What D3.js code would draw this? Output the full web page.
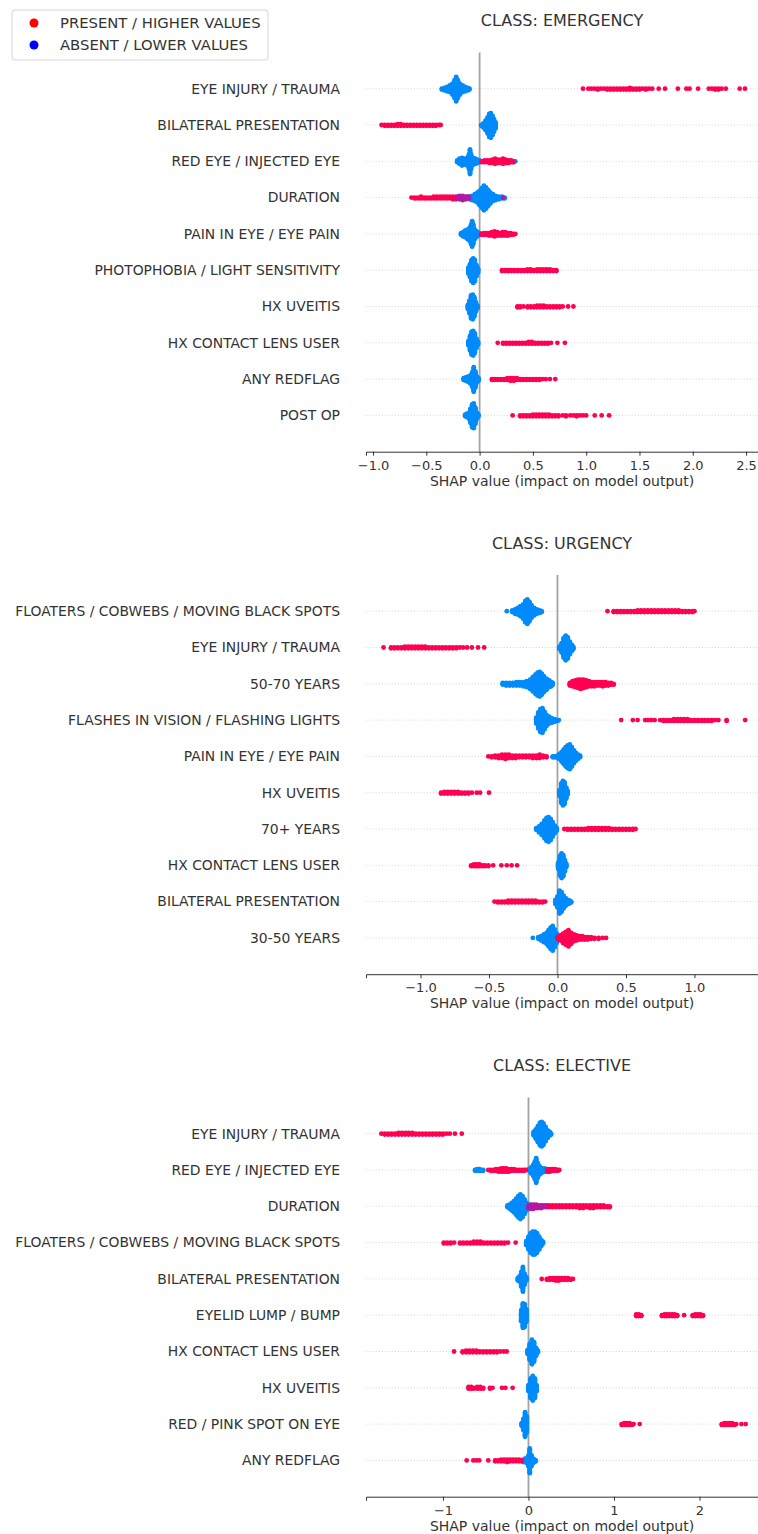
<!DOCTYPE html>
<html>
<head>
<meta charset="utf-8">
<script src="https://cdn.jsdelivr.net/npm/d3@7"></script>
<style>
  body { margin: 0; background: #fff; }
  text { font-family: "DejaVu Sans", sans-serif; fill: #333; }
</style>
</head>
<body>
<div id="chart"></div>
<script>
// ---- data: each column is [shap value, number of dots stacked at that value] ----
const panelTitles = ["CLASS: EMERGENCY", "CLASS: URGENCY", "CLASS: ELECTIVE"];
const panelDomains = [[-1.066, 2.612], [-1.398, 1.464], [-1.90, 2.684]];
const panelTicks = [[-1, -0.5, 0, 0.5, 1, 1.5, 2, 2.5], [-1, -0.5, 0, 0.5, 1], [-1, 0, 1, 2]];
const panelTickFormats = [".1f", ".1f", "d"];

const emergencyFeatures = ["EYE INJURY / TRAUMA", "BILATERAL PRESENTATION", "RED EYE / INJECTED EYE", "DURATION",
  "PAIN IN EYE / EYE PAIN", "PHOTOPHOBIA / LIGHT SENSITIVITY", "HX UVEITIS", "HX CONTACT LENS USER", "ANY REDFLAG", "POST OP"];
const emergencyBlue = [
  [[-0.355,2],[-0.33,4],[-0.305,6],[-0.28,9],[-0.255,14],[-0.235,22],[-0.22,30],[-0.205,22],[-0.185,14],[-0.16,9],[-0.135,6],[-0.11,4],[-0.095,2]],
  [[0.015,2],[0.035,6],[0.055,12],[0.075,20],[0.09,28],[0.105,30],[0.12,24],[0.135,16],[0.15,8]],
  [[-0.21,3],[-0.19,7],[-0.165,10],[-0.14,8],[-0.115,10],[-0.1,18],[-0.09,30],[-0.08,18],[-0.06,9],[-0.04,7],[-0.02,5],[0.0,3],[0.32,2],[0.335,1]],
  [[-0.12,3],[-0.095,4],[-0.07,6],[-0.045,9],[-0.02,13],[0.0,18],[0.02,24],[0.04,30],[0.06,26],[0.08,20],[0.10,14],[0.125,9],[0.15,6],[0.18,4],[0.21,3],[0.235,2]],
  [[-0.175,3],[-0.155,6],[-0.135,9],[-0.115,12],[-0.095,16],[-0.08,24],[-0.07,31],[-0.06,24],[-0.045,12],[-0.03,8],[-0.015,5],[0.0,3]],
  [[-0.105,8],[-0.09,16],[-0.075,26],[-0.06,30],[-0.045,26],[-0.03,14],[-0.015,6]],
  [[-0.11,6],[-0.095,16],[-0.08,28],[-0.065,30],[-0.05,24],[-0.035,12],[-0.02,4]],
  [[-0.105,6],[-0.09,18],[-0.075,28],[-0.06,30],[-0.045,24],[-0.03,12],[-0.015,4]],
  [[-0.15,3],[-0.13,5],[-0.11,7],[-0.09,10],[-0.07,18],[-0.055,30],[-0.04,20],[-0.025,8],[-0.01,4]],
  [[-0.135,3],[-0.12,5],[-0.10,8],[-0.085,18],[-0.07,28],[-0.055,30],[-0.04,20],[-0.025,8],[-0.012,3]]
];
const emergencyMid = [[], [], [], [[-0.22,4],[-0.19,5],[-0.16,6],[-0.13,4],[-0.10,3],[0.22,1]], [], [], [], [], [], []];
const emergencyRed = [
  [[0.97,1],[1.02,1],[1.05,1],[1.08,1],[1.11,2],[1.14,1],[1.17,1],[1.20,2],[1.23,2],[1.26,2],[1.29,2],[1.32,2],[1.35,2],[1.38,2],[1.41,3],[1.44,2],[1.47,2],[1.50,2],[1.53,1],[1.56,2],[1.59,1],[1.62,1],[1.68,1],[1.74,1],[1.86,1],[1.94,1],[1.97,1],[2.05,1],[2.15,1],[2.18,1],[2.21,2],[2.24,2],[2.27,1],[2.31,1],[2.44,1],[2.49,1]],
  [[-0.92,1],[-0.89,2],[-0.86,2],[-0.83,2],[-0.80,2],[-0.77,3],[-0.74,3],[-0.71,2],[-0.68,2],[-0.65,2],[-0.62,2],[-0.59,2],[-0.56,2],[-0.53,2],[-0.50,2],[-0.47,2],[-0.44,2],[-0.41,2],[-0.38,1],[-0.365,1]],
  [[0.02,2],[0.045,3],[0.07,3],[0.095,4],[0.12,5],[0.145,7],[0.17,5],[0.195,5],[0.22,7],[0.245,5],[0.27,4],[0.295,3],[0.315,2]],
  [[-0.64,1],[-0.61,2],[-0.58,2],[-0.55,3],[-0.52,2],[-0.49,2],[-0.46,2],[-0.43,3],[-0.40,3],[-0.37,3],[-0.34,3],[-0.31,3],[-0.28,3],[-0.25,4]],
  [[0.015,2],[0.04,3],[0.065,3],[0.09,4],[0.115,5],[0.14,7],[0.165,5],[0.19,4],[0.215,5],[0.24,5],[0.265,4],[0.29,3],[0.315,2],[0.335,1]],
  [[0.21,2],[0.24,2],[0.27,2],[0.30,2],[0.33,2],[0.36,2],[0.39,2],[0.42,2],[0.45,3],[0.48,3],[0.51,2],[0.54,3],[0.57,3],[0.60,3],[0.63,3],[0.66,3],[0.69,2],[0.72,2]],
  [[0.355,2],[0.38,2],[0.41,1],[0.45,2],[0.48,2],[0.51,2],[0.54,3],[0.57,3],[0.60,3],[0.63,2],[0.66,2],[0.69,2],[0.72,2],[0.75,2],[0.78,1],[0.83,1],[0.88,1]],
  [[0.17,1],[0.22,2],[0.25,2],[0.28,2],[0.31,2],[0.34,2],[0.37,2],[0.40,2],[0.43,2],[0.46,3],[0.49,3],[0.52,2],[0.55,2],[0.58,2],[0.61,2],[0.64,2],[0.67,1],[0.73,1],[0.80,1]],
  [[0.115,2],[0.14,2],[0.17,2],[0.20,2],[0.23,2],[0.26,3],[0.29,4],[0.32,4],[0.35,3],[0.38,2],[0.41,2],[0.44,2],[0.47,2],[0.50,2],[0.53,2],[0.56,2],[0.59,1],[0.62,1],[0.66,1],[0.71,1]],
  [[0.31,1],[0.38,2],[0.41,2],[0.44,2],[0.47,2],[0.50,3],[0.53,3],[0.56,3],[0.59,3],[0.62,3],[0.65,3],[0.68,2],[0.71,2],[0.74,2],[0.78,1],[0.81,2],[0.85,1],[0.88,1],[0.91,2],[0.94,1],[0.97,1],[1.0,1],[1.08,1],[1.145,1],[1.215,1]]
];

const urgencyFeatures = ["FLOATERS / COBWEBS / MOVING BLACK SPOTS", "EYE INJURY / TRAUMA", "50-70 YEARS", "FLASHES IN VISION / FLASHING LIGHTS",
  "PAIN IN EYE / EYE PAIN", "HX UVEITIS", "70+ YEARS", "HX CONTACT LENS USER", "BILATERAL PRESENTATION", "30-50 YEARS"];
const urgencyBlue = [
  [[-0.37,1],[-0.33,3],[-0.31,6],[-0.29,9],[-0.27,13],[-0.25,18],[-0.235,26],[-0.22,30],[-0.205,24],[-0.19,16],[-0.17,10],[-0.15,6],[-0.13,4],[-0.115,2]],
  [[0.015,4],[0.03,12],[0.045,24],[0.06,30],[0.075,26],[0.09,16],[0.105,8],[0.115,4]],
  [[-0.40,3],[-0.375,4],[-0.35,4],[-0.325,4],[-0.30,5],[-0.275,5],[-0.25,6],[-0.225,8],[-0.20,12],[-0.18,18],[-0.16,24],[-0.145,28],[-0.13,30],[-0.115,26],[-0.10,20],[-0.08,14],[-0.06,9],[-0.045,6],[-0.035,3]],
  [[-0.155,8],[-0.14,20],[-0.125,28],[-0.11,30],[-0.095,22],[-0.08,14],[-0.06,9],[-0.04,6],[-0.02,4],[0.0,2],[0.01,1]],
  [[-0.035,2],[-0.02,2],[0.0,4],[0.015,7],[0.03,12],[0.045,18],[0.06,24],[0.075,28],[0.09,30],[0.105,24],[0.12,16],[0.135,10],[0.15,6],[0.165,3]],
  [[0.015,8],[0.028,24],[0.04,30],[0.052,26],[0.064,14],[0.074,5]],
  [[-0.155,3],[-0.135,8],[-0.115,14],[-0.095,22],[-0.08,28],[-0.065,30],[-0.05,26],[-0.035,18],[-0.02,10],[-0.005,4]],
  [[0.005,8],[0.018,24],[0.03,30],[0.042,26],[0.054,14],[0.064,5]],
  [[-0.015,6],[0.0,14],[0.015,28],[0.03,24],[0.045,16],[0.06,10],[0.075,6],[0.09,4],[0.10,2]],
  [[-0.18,1],[-0.14,3],[-0.12,6],[-0.10,10],[-0.08,14],[-0.065,20],[-0.05,26],[-0.035,30],[-0.02,22],[-0.005,12],[0.01,5]]
];
const urgencyMid = [[], [], [], [], [], [], [], [], [], []];
const urgencyRed = [
  [[0.365,1],[0.41,2],[0.435,2],[0.46,2],[0.485,2],[0.51,2],[0.535,2],[0.56,2],[0.585,3],[0.61,3],[0.635,3],[0.66,3],[0.685,3],[0.71,3],[0.735,3],[0.76,3],[0.785,3],[0.81,3],[0.835,3],[0.86,3],[0.885,3],[0.91,2],[0.935,2],[0.96,2],[0.985,2],[1.0,1]],
  [[-1.27,1],[-1.215,2],[-1.19,2],[-1.165,2],[-1.14,2],[-1.115,3],[-1.09,3],[-1.065,3],[-1.04,3],[-1.015,3],[-0.99,3],[-0.965,3],[-0.94,2],[-0.915,2],[-0.89,2],[-0.865,2],[-0.84,2],[-0.815,2],[-0.79,2],[-0.765,2],[-0.74,2],[-0.715,1],[-0.69,1],[-0.66,1],[-0.625,1],[-0.58,1],[-0.535,1]],
  [[0.09,4],[0.11,7],[0.13,9],[0.15,11],[0.17,12],[0.19,11],[0.21,9],[0.23,7],[0.25,6],[0.27,6],[0.29,5],[0.31,5],[0.33,6],[0.35,5],[0.37,4],[0.39,3],[0.41,2]],
  [[0.465,1],[0.55,1],[0.585,1],[0.64,1],[0.66,1],[0.685,1],[0.71,1],[0.75,1],[0.775,2],[0.80,2],[0.825,2],[0.85,3],[0.875,3],[0.90,3],[0.925,3],[0.95,3],[0.975,2],[1.0,2],[1.025,2],[1.05,2],[1.075,2],[1.10,2],[1.125,2],[1.15,1],[1.175,1],[1.235,2],[1.37,1]],
  [[-0.505,1],[-0.48,2],[-0.455,3],[-0.43,4],[-0.405,5],[-0.38,6],[-0.355,5],[-0.33,4],[-0.305,4],[-0.28,3],[-0.255,3],[-0.23,3],[-0.205,3],[-0.18,4],[-0.155,4],[-0.13,5],[-0.105,3],[-0.08,2]],
  [[-0.85,2],[-0.825,3],[-0.80,3],[-0.775,3],[-0.75,3],[-0.725,3],[-0.70,2],[-0.675,2],[-0.65,2],[-0.625,1],[-0.59,1],[-0.565,1],[-0.50,1]],
  [[0.05,1],[0.075,2],[0.10,2],[0.125,2],[0.15,2],[0.175,2],[0.20,2],[0.225,3],[0.25,3],[0.275,3],[0.30,3],[0.325,3],[0.35,3],[0.375,3],[0.40,2],[0.425,2],[0.45,2],[0.475,2],[0.50,2],[0.525,2],[0.55,2],[0.57,1]],
  [[-0.63,2],[-0.61,3],[-0.59,3],[-0.57,3],[-0.55,2],[-0.53,2],[-0.505,2],[-0.47,1],[-0.41,1],[-0.37,1],[-0.335,1],[-0.295,1]],
  [[-0.46,1],[-0.435,2],[-0.41,2],[-0.385,2],[-0.36,3],[-0.335,3],[-0.31,3],[-0.285,3],[-0.26,3],[-0.235,3],[-0.21,3],[-0.185,3],[-0.16,3],[-0.135,2],[-0.11,2],[-0.09,1]],
  [[0.0,3],[0.02,7],[0.04,12],[0.06,16],[0.08,20],[0.10,14],[0.12,9],[0.14,7],[0.16,5],[0.18,5],[0.20,4],[0.22,4],[0.245,3],[0.27,2],[0.30,2],[0.33,1],[0.355,1]]
];

const electiveFeatures = ["EYE INJURY / TRAUMA", "RED EYE / INJECTED EYE", "DURATION", "FLOATERS / COBWEBS / MOVING BLACK SPOTS",
  "BILATERAL PRESENTATION", "EYELID LUMP / BUMP", "HX CONTACT LENS USER", "HX UVEITIS", "RED / PINK SPOT ON EYE", "ANY REDFLAG"];
const electiveBlue = [
  [[0.06,5],[0.085,12],[0.11,20],[0.135,28],[0.155,30],[0.175,26],[0.2,18],[0.225,10],[0.25,5],[0.265,2]],
  [[-0.625,2],[-0.6,3],[-0.575,3],[-0.55,2],[-0.53,2],[0.005,3],[0.03,8],[0.055,14],[0.075,22],[0.09,30],[0.11,18],[0.135,10],[0.16,6],[0.185,5],[0.21,4]],
  [[-0.245,3],[-0.22,6],[-0.195,10],[-0.17,14],[-0.145,20],[-0.12,26],[-0.095,30],[-0.07,26],[-0.045,18],[-0.02,10],[0.005,6],[0.03,4]],
  [[-0.025,6],[0.0,16],[0.025,24],[0.05,28],[0.075,28],[0.10,24],[0.125,16],[0.15,8],[0.17,3]],
  [[-0.125,4],[-0.105,7],[-0.085,18],[-0.065,30],[-0.045,14],[-0.025,5]],
  [[-0.085,14],[-0.065,30],[-0.045,28],[-0.025,16]],
  [[-0.01,6],[0.015,20],[0.04,30],[0.065,24],[0.09,10],[0.11,3]],
  [[0.0,8],[0.025,24],[0.05,30],[0.075,24],[0.095,8]],
  [[-0.08,4],[-0.06,14],[-0.04,30],[-0.02,20]],
  [[-0.06,4],[-0.04,5],[-0.02,6],[0.0,14],[0.015,30],[0.035,14],[0.055,6],[0.07,4],[0.085,2]]
];
const electiveMid = [[], [], [[0.0,4],[0.03,6],[0.06,6],[0.09,5],[0.12,4],[0.15,4],[0.18,3],[0.21,3]], [], [], [], [], [], [], []];
const electiveRed = [
  [[-1.72,1],[-1.68,2],[-1.64,2],[-1.60,2],[-1.56,2],[-1.52,3],[-1.48,3],[-1.44,3],[-1.40,3],[-1.36,3],[-1.32,2],[-1.28,2],[-1.24,2],[-1.20,2],[-1.16,2],[-1.12,2],[-1.08,2],[-1.04,2],[-1.00,2],[-0.96,1],[-0.92,1],[-0.86,1],[-0.78,1]],
  [[-0.47,1],[-0.44,2],[-0.41,2],[-0.38,3],[-0.35,4],[-0.32,5],[-0.29,5],[-0.26,5],[-0.23,4],[-0.20,3],[-0.17,3],[-0.14,2],[-0.11,2],[-0.08,2],[-0.05,2],[-0.03,1],[0.22,4],[0.25,4],[0.28,3],[0.31,3],[0.34,2],[0.36,1]],
  [[0.24,3],[0.28,3],[0.32,3],[0.36,3],[0.40,3],[0.44,3],[0.48,3],[0.52,3],[0.56,3],[0.60,4],[0.64,4],[0.68,3],[0.72,4],[0.76,4],[0.80,3],[0.84,3],[0.88,3],[0.92,2],[0.95,2]],
  [[-0.99,2],[-0.95,2],[-0.91,2],[-0.87,1],[-0.80,2],[-0.76,2],[-0.72,2],[-0.68,2],[-0.64,3],[-0.60,3],[-0.56,3],[-0.52,2],[-0.48,2],[-0.44,2],[-0.40,2],[-0.36,2],[-0.32,2],[-0.28,2],[-0.24,1],[-0.15,1]],
  [[0.155,1],[0.215,2],[0.25,3],[0.285,3],[0.32,4],[0.355,4],[0.39,3],[0.425,3],[0.46,3],[0.495,2],[0.52,1]],
  [[1.26,3],[1.29,3],[1.32,2],[1.56,2],[1.59,3],[1.62,3],[1.65,3],[1.68,3],[1.71,3],[1.74,2],[1.82,1],[1.92,2],[1.95,3],[1.98,3],[2.01,3],[2.04,2]],
  [[-0.87,1],[-0.77,2],[-0.73,3],[-0.69,3],[-0.65,3],[-0.61,3],[-0.57,2],[-0.53,2],[-0.49,2],[-0.45,2],[-0.41,2],[-0.37,2],[-0.33,1],[-0.29,1],[-0.255,1]],
  [[-0.70,3],[-0.67,3],[-0.64,2],[-0.60,3],[-0.565,3],[-0.53,2],[-0.45,2],[-0.42,1],[-0.31,1],[-0.27,1],[-0.185,1]],
  [[1.09,2],[1.12,3],[1.15,3],[1.18,3],[1.21,2],[1.23,1],[1.30,1],[2.26,2],[2.29,3],[2.32,3],[2.35,3],[2.38,3],[2.41,2],[2.43,1],[2.49,1],[2.54,1]],
  [[-0.723,1],[-0.645,1],[-0.61,1],[-0.576,1],[-0.47,1],[-0.39,2],[-0.355,2],[-0.32,3],[-0.285,3],[-0.25,4],[-0.215,3],[-0.18,3],[-0.145,3],[-0.11,3],[-0.08,2]]
];

const legendLabels = ["PRESENT / HIGHER VALUES", "ABSENT / LOWER VALUES"];

// ---- layout ----
const W = 758, H = 1534;
const panelH = 522.5;
const plotLeft = 366, plotRight = 758;
const axisY = 451.7, rowStep = 36.3;
const dotR = 2.4, stackStep = 0.85;
const RED = "#ff0052", BLUE = "#008bfb", MID = "#b01aa0";

const panels = [
  {features: emergencyFeatures, blue: emergencyBlue, mid: emergencyMid, red: emergencyRed},
  {features: urgencyFeatures, blue: urgencyBlue, mid: urgencyMid, red: urgencyRed},
  {features: electiveFeatures, blue: electiveBlue, mid: electiveMid, red: electiveRed}
];

const svg = d3.select("#chart").append("svg")
  .attr("width", W).attr("height", H);

// stack the dots of one column around the row line: 0, +1, -1, +2, -2 ...
const expand = (cols) => cols.flatMap(([v, n]) =>
  d3.range(n).map(j => ({v, k: Math.ceil(j / 2) * (j % 2 ? 1 : -1)})));

panels.forEach((p, pi) => {
  const g = svg.append("g").attr("transform", `translate(0,${pi * panelH})`);
  const n = p.features.length;

  const x = d3.scaleLinear().domain(panelDomains[pi]).range([plotLeft, plotRight]);
  const y = d3.scaleLinear().domain([-1, n]).range([axisY, axisY - (n + 1) * rowStep]);
  const rowY = (i) => y(n - 1 - i);

  // dotted row guides
  g.append("g").selectAll("line")
    .data(p.features)
    .join("line")
    .attr("x1", plotLeft).attr("x2", plotRight)
    .attr("y1", (d, i) => rowY(i)).attr("y2", (d, i) => rowY(i))
    .attr("stroke", "#cfcfcf").attr("stroke-width", 0.9)
    .attr("stroke-dasharray", "1,2.2");

  // zero line
  g.append("line")
    .attr("x1", x(0)).attr("x2", x(0))
    .attr("y1", y(n)).attr("y2", axisY)
    .attr("stroke", "#a3a3a3").attr("stroke-width", 1.8);

  // dots: blue first, then mixed, then red
  [["blue", BLUE], ["mid", MID], ["red", RED]].forEach(([key, color]) => {
    g.append("g").attr("fill", color)
      .selectAll("g")
      .data(p[key])
      .join("g")
      .attr("transform", (d, i) => `translate(0,${rowY(i)})`)
      .selectAll("circle")
      .data(d => expand(d))
      .join("circle")
      .attr("cx", d => x(d.v))
      .attr("cy", d => d.k * stackStep)
      .attr("r", dotR);
  });

  // feature names
  g.append("g").selectAll("text")
    .data(p.features)
    .join("text")
    .attr("x", 340)
    .attr("y", (d, i) => rowY(i))
    .attr("dy", "0.35em")
    .attr("text-anchor", "end")
    .style("font-size", "13.9px")
    .text(d => d);

  // x axis
  const ax = g.append("g")
    .attr("transform", `translate(0,${axisY})`)
    .call(d3.axisBottom(x).tickValues(panelTicks[pi]).tickFormat(d3.format(panelTickFormats[pi])).tickSizeOuter(0).tickSize(4));
  ax.select(".domain").attr("stroke", "#333");
  ax.selectAll(".tick line").attr("stroke", "#333");
  ax.selectAll(".tick text").style("font-size", "13px").attr("fill", "#333")
    .style("font-family", '"DejaVu Sans", sans-serif').attr("dy", "0.85em");

  g.append("text")
    .attr("x", (plotLeft + plotRight) / 2)
    .attr("y", axisY + 34)
    .attr("text-anchor", "middle")
    .style("font-size", "14px")
    .text("SHAP value (impact on model output)");

  g.append("text")
    .attr("x", (plotLeft + plotRight) / 2)
    .attr("y", 26)
    .attr("text-anchor", "middle")
    .style("font-size", "16px")
    .text(panelTitles[pi]);
});

// legend
const lg = svg.append("g");
lg.append("rect")
  .attr("x", 12).attr("y", 10).attr("width", 256).attr("height", 50)
  .attr("rx", 3).attr("fill", "#fff").attr("stroke", "#d6d6d6");
lg.selectAll("circle")
  .data(legendLabels)
  .join("circle")
  .attr("cx", 34).attr("cy", (d, i) => 23 + i * 22)
  .attr("r", 4.5)
  .attr("fill", (d, i) => i === 0 ? "#ff0000" : "#0000ff");
lg.selectAll("text")
  .data(legendLabels)
  .join("text")
  .attr("x", 60).attr("y", (d, i) => 23 + i * 22)
  .attr("dy", "0.35em")
  .style("font-size", "14.8px")
  .text(d => d);
</script>
</body>
</html>
